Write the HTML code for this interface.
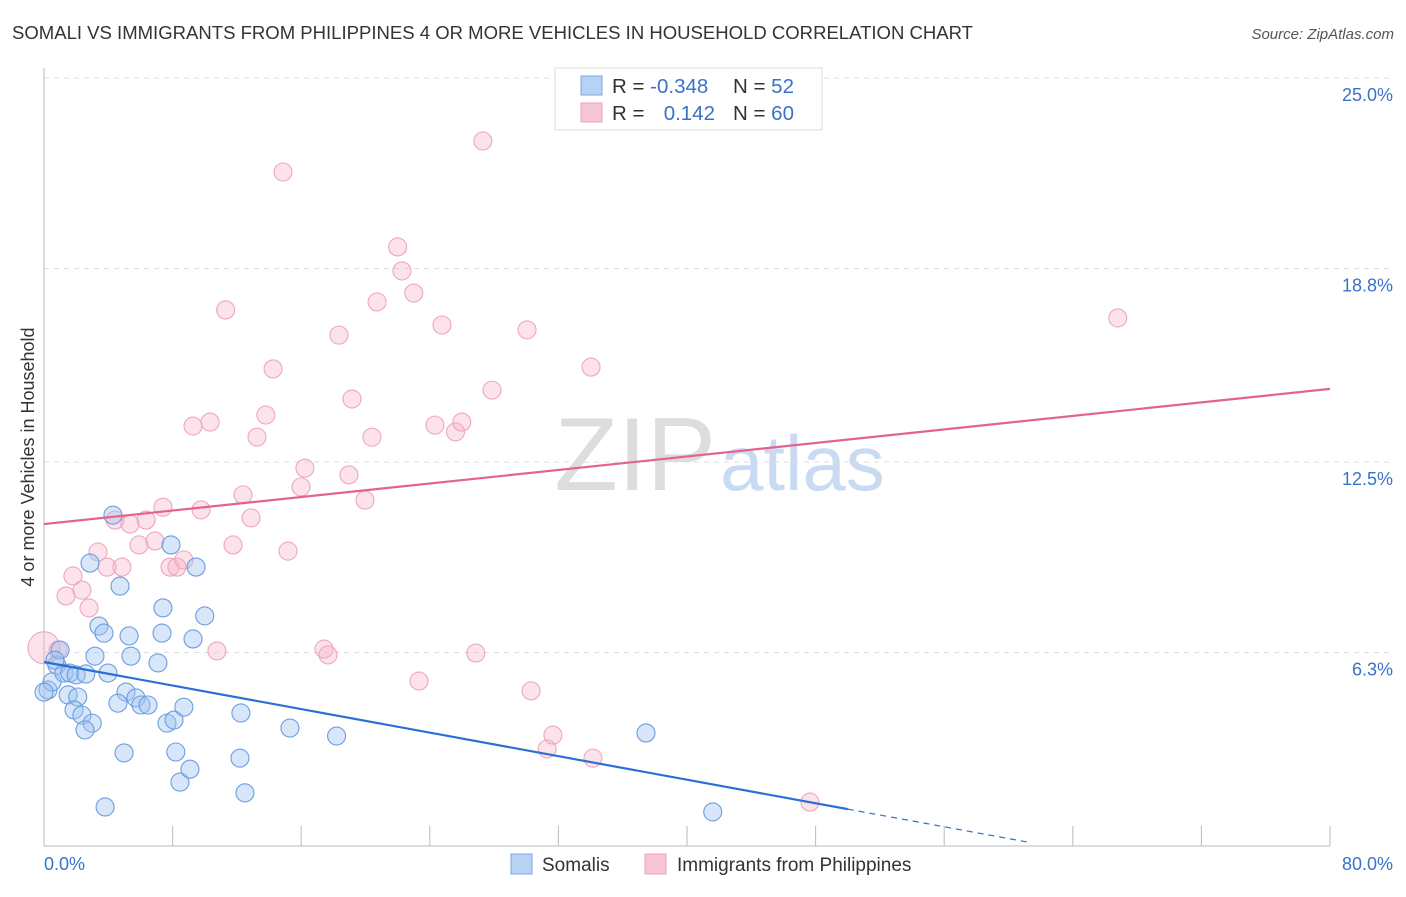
<!DOCTYPE html>
<html><head><meta charset="utf-8"><style>
body{margin:0;background:#fff;font-family:"Liberation Sans",sans-serif}
svg text{font-family:"Liberation Sans",sans-serif}
</style></head><body>
<svg id="c" width="1406" height="892" xmlns="http://www.w3.org/2000/svg">
<text x="12" y="39" font-size="18.6" fill="#333" textLength="961" lengthAdjust="spacingAndGlyphs">SOMALI VS IMMIGRANTS FROM PHILIPPINES 4 OR MORE VEHICLES IN HOUSEHOLD CORRELATION CHART</text>
<text x="1394" y="39" font-size="15" fill="#555" font-style="italic" text-anchor="end">Source: ZipAtlas.com</text>
<text x="716" y="490" font-size="104" fill="#ddd" text-anchor="end" font-family="Liberation Serif">ZIP</text>
<text x="720" y="490" font-size="78" fill="#c9dbf2">atlas</text>
<g id="grid"></g><g id="pts"></g><g id="lines"></g>
<text transform="translate(34,457) rotate(-90)" font-size="18" fill="#333" text-anchor="middle">4 or more Vehicles in Household</text>
<text x="44" y="870" font-size="18" fill="#3a72c8">0.0%</text>
<text x="1393" y="870" font-size="18" fill="#3a72c8" text-anchor="end">80.0%</text>
<g>
<rect x="555" y="68" width="267" height="62" fill="#fff" stroke="#ddd"/>
<rect x="581" y="76" width="21" height="19" fill="#b7d2f4" stroke="#7aa7e3"/>
<rect x="581" y="103" width="21" height="19" fill="#f8c6d5" stroke="#eca0b8"/>
<text x="612" y="93" font-size="20.5" fill="#333">R = <tspan fill="#3a72c8">-0.348</tspan></text>
<text x="733" y="93" font-size="20.5" fill="#333">N = <tspan fill="#3a72c8">52</tspan></text>
<text x="612" y="120" font-size="20.5" fill="#333">R = </text>
<text x="715" y="120" font-size="20.5" fill="#3a72c8" text-anchor="end">0.142</text>
<text x="733" y="120" font-size="20.5" fill="#333">N = <tspan fill="#3a72c8">60</tspan></text>
</g>
<g>
<rect x="511" y="854" width="21" height="20" fill="#b7d2f4" stroke="#7aa7e3"/>
<text x="542" y="871" font-size="19" fill="#333">Somalis</text>
<rect x="645" y="854" width="21" height="20" fill="#f8c6d5" stroke="#eca0b8"/>
<text x="677" y="871" font-size="19" fill="#333">Immigrants from Philippines</text>
</g>
</svg>
<script>
const yTicks=[25.0,18.8,12.5,6.3];
const yTickLabels=["25.0%","18.8%","12.5%","6.3%"];
const xTicks=[0,8,16,24,32,40,48,56,64,72,80];
const blueX=[0.25,0.5,0.8,1.0,1.24,1.6,2.0,1.5,2.1,1.87,2.36,3.0,2.55,2.86,3.17,3.42,3.73,3.98,4.29,4.73,4.98,5.1,5.29,5.41,5.72,6.03,6.47,7.09,7.4,7.34,7.65,7.9,8.09,8.2,8.46,8.7,9.08,9.27,9.46,10.0,12.25,12.19,12.5,15.3,18.2,3.8,37.45,41.6,0.68,0.0,2.6,4.6];
const blueY=[5.08,5.34,5.89,6.38,5.63,5.63,5.57,4.92,4.85,4.43,4.26,4.0,3.78,9.21,6.18,7.16,6.93,5.63,10.77,8.46,3.03,5.01,6.84,6.18,4.82,4.59,4.59,5.96,7.75,6.93,4.0,9.8,4.1,3.06,2.08,4.52,2.5,6.74,9.08,7.49,4.33,2.86,1.73,3.84,3.58,1.27,3.68,1.11,6.05,5.01,5.6,4.65];
const pinkX=[0,0.87,1.37,1.8,2.36,2.8,3.36,3.92,4.42,4.85,5.35,5.91,6.35,6.9,7.4,7.84,8.27,8.7,9.27,9.77,10.33,10.76,11.3,11.76,12.38,12.88,13.25,13.8,14.25,14.87,15.18,15.99,16.23,17.42,17.67,18.35,18.97,19.16,19.97,20.4,20.72,22.0,22.27,23.0,23.33,24.32,24.76,25.6,25.99,26.86,27.3,27.87,30.05,30.3,31.3,31.66,34.03,34.15,47.65,66.8];
const pinkY=[6.45,6.38,8.14,8.79,8.33,7.75,9.57,9.08,10.61,9.08,10.48,9.8,10.61,9.93,11.03,9.08,9.08,9.31,13.67,10.94,13.8,6.35,17.45,9.8,11.43,10.68,13.31,14.03,15.53,21.94,9.6,11.69,12.3,6.41,6.22,16.63,12.08,14.55,11.26,13.31,17.71,19.5,18.72,18.0,5.37,13.7,16.96,13.48,13.8,6.28,22.95,14.84,16.8,5.05,3.16,3.61,15.59,2.86,1.43,17.19];
const blueTrend=[5.99,-0.0958]; const blueSolidEnd=50; const blueDashEnd=61.3;
const pinkTrend=[10.48,0.055]; const pinkEnd=80;
const NS="http://www.w3.org/2000/svg";
const sx=v=>44+v/80*1286, sy=v=>846-v*30.72;
function mk(t,a,p){const e=document.createElementNS(NS,t);for(const k in a)e.setAttribute(k,a[k]);p.appendChild(e);return e;}
const g=document.getElementById('grid');
yTicks.forEach((t,i)=>{
 const l=mk('line',{x1:44,x2:1393,y1:sy(t),y2:sy(t),stroke:'#ddd','stroke-dasharray':'5,5'},g);
 
 
 const tx=mk('text',{x:1393,y:sy(t)+23,'font-size':18,fill:'#3a72c8','text-anchor':'end'},g);
 tx.textContent=yTickLabels[i];
 
 
});
const ya=mk('line',{x1:44,x2:44,y1:68,y2:846,stroke:'#bbb'},g);


const xa=mk('line',{x1:44,x2:1330,y1:846,y2:846,stroke:'#bbb'},g);


xTicks.forEach(t=>{const l=mk('line',{x1:sx(t),x2:sx(t),y1:826,y2:846,stroke:'#bbb'},g);
 
 });
const P=document.getElementById('pts');
pinkX.forEach((x,i)=>{const c=mk('circle',{cx:sx(x),cy:sy(pinkY[i]),r:i==0?16:9,fill:'rgba(246,178,200,0.38)',stroke:'#eea7bd','stroke-width':1.1},P);
 
 });
blueX.forEach((x,i)=>{const c=mk('circle',{cx:sx(x),cy:sy(blueY[i]),r:9,fill:'rgba(160,196,240,0.42)',stroke:'#6a9ee0','stroke-width':1.1},P);
 
 });
const L=document.getElementById('lines');
const f=(t,x)=>t[0]+t[1]*x;
const pl=mk('line',{x1:sx(0),y1:sy(f(pinkTrend,0)),x2:sx(pinkEnd),y2:sy(f(pinkTrend,pinkEnd)),stroke:'#e4628e','stroke-width':2.2},L);


const bl=mk('line',{x1:sx(0),y1:sy(f(blueTrend,0)),x2:sx(blueSolidEnd),y2:sy(f(blueTrend,blueSolidEnd)),stroke:'#2a6fd6','stroke-width':2.2},L);


const bd=mk('line',{x1:sx(blueSolidEnd),y1:sy(f(blueTrend,blueSolidEnd)),x2:sx(blueDashEnd),y2:sy(f(blueTrend,blueDashEnd)),stroke:'#2a6fd6','stroke-width':1.2,'stroke-dasharray':'6,5'},L);


</script>
</body></html>
